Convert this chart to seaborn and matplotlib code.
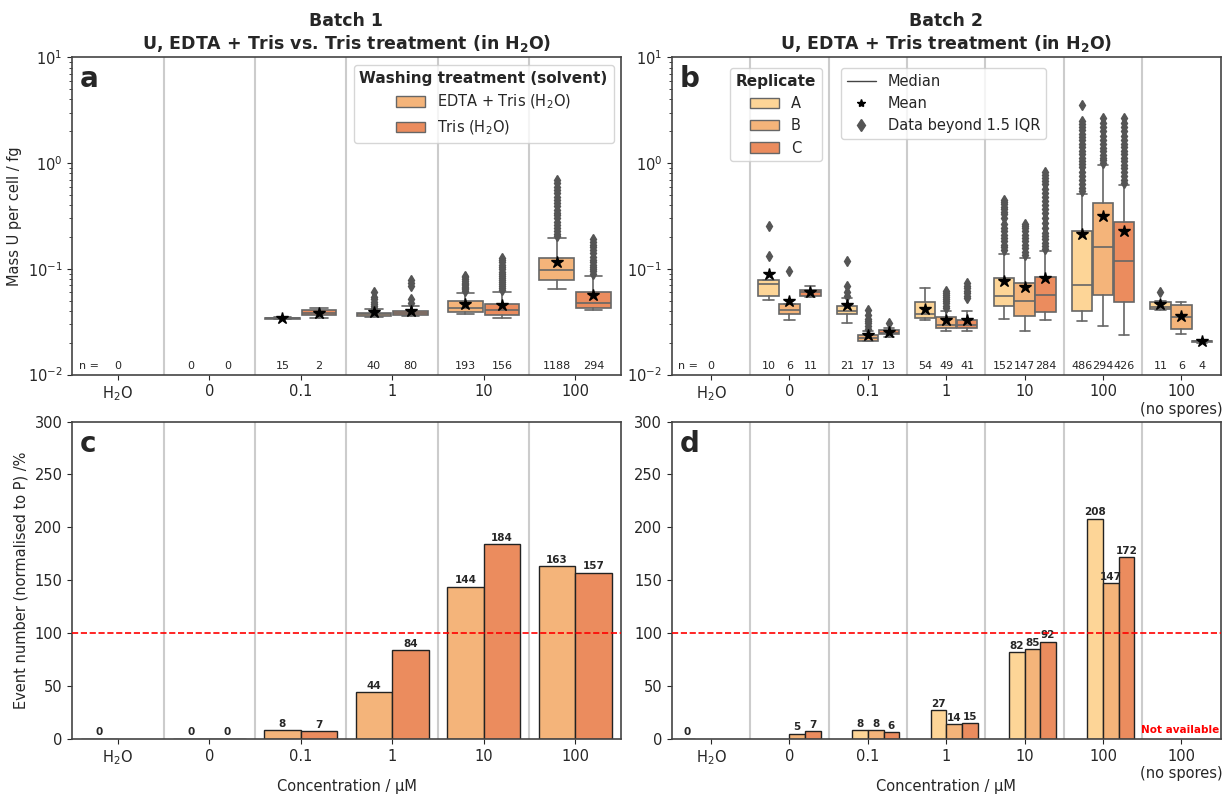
import numpy as np
import pandas as pd
import matplotlib
matplotlib.use('Agg')
import matplotlib.pyplot as plt
import seaborn as sns
from matplotlib.lines import Line2D
from matplotlib.patches import Patch

sns.set_style('ticks')
plt.rcParams['font.family'] = ['DejaVu Sans']

# ---------------- Batch 1 (panels a, c) ----------------
a_categories = ['H2O', '0', '0.1', '1', '10', '100']
a_tick_labels = ['H$_2$O', '0', '0.1', '1', '10', '100']
a_treatments = ['EDTA + Tris (H$_2$O)', 'Tris (H$_2$O)']
a_colors = ['#F4B47A', '#EB8C5E']

a_box_cat = ['0.1', '0.1', '1', '1', '10', '10', '100', '100']
a_box_hue = [0, 1, 0, 1, 0, 1, 0, 1]
a_q1 = [0.0338, 0.0366, 0.0359, 0.0366, 0.0394, 0.0364, 0.0787, 0.0430]
a_med = [0.0341, 0.0385, 0.0372, 0.0385, 0.0424, 0.0408, 0.0978, 0.0473]
a_q3 = [0.0344, 0.0408, 0.0385, 0.0400, 0.0494, 0.0463, 0.128, 0.0605]
a_lo = [0.0334, 0.0345, 0.0353, 0.0362, 0.0372, 0.0341, 0.0642, 0.0408]
a_hi = [0.0348, 0.0430, 0.0415, 0.0446, 0.0592, 0.0610, 0.198, 0.0859]
a_mean = [0.0341, 0.0385, 0.0391, 0.0400, 0.0463, 0.0456, 0.117, 0.0567]
a_fliers = [
    [], [],
    [0.043, 0.045, 0.047, 0.049, 0.052, 0.054, 0.060],
    [0.048, 0.052, 0.069, 0.074, 0.079],
    [0.062, 0.064, 0.066, 0.068, 0.070, 0.072, 0.074, 0.077, 0.080, 0.083, 0.086],
    [0.063, 0.066, 0.069, 0.072, 0.075, 0.078, 0.082, 0.086, 0.090, 0.094,
     0.099, 0.104, 0.110, 0.116, 0.122, 0.128],
    [0.205, 0.215, 0.23, 0.245, 0.26, 0.28, 0.30, 0.32, 0.34, 0.36, 0.39,
     0.42, 0.45, 0.48, 0.52, 0.56, 0.60, 0.65, 0.70],
    [0.090, 0.095, 0.10, 0.105, 0.11, 0.116, 0.122, 0.13, 0.14, 0.15, 0.16,
     0.17, 0.18, 0.19],
]
a_n_counts = [[0], [0, 0], [15, 2], [40, 80], [193, 156], [1188, 294]]

c_conc = ['H2O', '0', '0', '0.1', '0.1', '1', '1', '10', '10', '100', '100']
c_treat = [0, 0, 1, 0, 1, 0, 1, 0, 1, 0, 1]
c_values = [0, 0, 0, 8, 7, 44, 84, 144, 184, 163, 157]

# ---------------- Batch 2 (panels b, d) ----------------
b_categories = ['H2O', '0', '0.1', '1', '10', '100', '100ns']
b_tick_labels = ['H$_2$O', '0', '0.1', '1', '10', '100', '100\n(no spores)']
b_replicates = ['A', 'B', 'C']
b_colors = ['#FDD597', '#F4B47A', '#EB8C5E']

b_box_cat = ['0'] * 3 + ['0.1'] * 3 + ['1'] * 3 + ['10'] * 3 + ['100'] * 3 + ['100ns'] * 3
b_box_hue = [0, 1, 2] * 6
b_q1 = [0.0553, 0.0378, 0.0553, 0.0373, 0.0206, 0.0240, 0.0344, 0.0276, 0.0276,
        0.0445, 0.0360, 0.0392, 0.0404, 0.0565, 0.0489, 0.0422, 0.0268, 0.0203]
b_med = [0.0714, 0.0407, 0.0608, 0.0398, 0.0222, 0.0249, 0.0378, 0.0293, 0.0297,
         0.0553, 0.0499, 0.0565, 0.0704, 0.160, 0.119, 0.0438, 0.0352, 0.0206]
b_q3 = [0.078, 0.0468, 0.0631, 0.0447, 0.0239, 0.0262, 0.0482, 0.0347, 0.0332,
        0.0827, 0.0741, 0.0845, 0.227, 0.422, 0.278, 0.0482, 0.0451, 0.0209]
b_lo = [0.0503, 0.0327, 0.0541, 0.0308, 0.0206, 0.0227, 0.0327, 0.0261, 0.0261,
        0.0339, 0.0261, 0.0327, 0.0320, 0.0286, 0.0239, 0.0407, 0.0242, 0.0200]
b_hi = [0.078, 0.0468, 0.0694, 0.0525, 0.0257, 0.0276, 0.0654, 0.0398, 0.0398,
        0.138, 0.126, 0.146, 0.507, 0.957, 0.617, 0.0496, 0.0489, 0.0212]
b_mean = [0.0896, 0.0496, 0.0608, 0.0454, 0.0239, 0.0253, 0.0416, 0.0327, 0.0327,
          0.0769, 0.0669, 0.0827, 0.214, 0.315, 0.227, 0.0464, 0.0357, 0.0206]
b_fliers = [
    [0.131, 0.257], [0.0964], [],
    [0.0555, 0.0608, 0.0689, 0.120],
    [0.0273, 0.0290, 0.0305, 0.0320, 0.0339, 0.0370, 0.0407],
    [0.0310],
    [],
    [0.0423, 0.0445, 0.0472, 0.0495, 0.0519, 0.0540, 0.0565, 0.0590, 0.0618],
    [0.0527, 0.0555, 0.0586, 0.0620, 0.0654, 0.0690, 0.0730],
    [0.152, 0.160, 0.169, 0.182, 0.196, 0.21, 0.227, 0.245, 0.263, 0.30,
     0.327, 0.345, 0.365, 0.385, 0.407, 0.425, 0.444],
    [0.136, 0.145, 0.157, 0.168, 0.182, 0.195, 0.211, 0.228, 0.244, 0.255, 0.268],
    [0.155, 0.163, 0.175, 0.19, 0.205, 0.22, 0.244, 0.27, 0.304, 0.335, 0.365,
     0.40, 0.438, 0.48, 0.526, 0.575, 0.631, 0.68, 0.73, 0.78, 0.827],
    [0.545, 0.58, 0.631, 0.69, 0.757, 0.83, 0.91, 0.98, 1.05, 1.13, 1.22, 1.31,
     1.41, 1.52, 1.64, 1.76, 1.90, 2.05, 2.19, 2.35, 2.53, 3.57],
    [1.01, 1.07, 1.13, 1.2, 1.31, 1.4, 1.52, 1.65, 1.82, 2.0, 2.19, 2.4, 2.66],
    [0.654, 0.70, 0.757, 0.82, 0.89, 0.96, 1.05, 1.13, 1.22, 1.31, 1.41, 1.52,
     1.65, 1.82, 2.0, 2.19, 2.4, 2.66],
    [0.0608], [], [],
]
b_n_counts = [[0], [10, 6, 11], [21, 17, 13], [54, 49, 41], [152, 147, 284],
              [486, 294, 426], [11, 6, 4]]

d_conc = ['H2O', '0', '0', '0.1', '0.1', '0.1', '1', '1', '1', '10', '10', '10',
          '100', '100', '100']
d_rep = ['P', 'B', 'C', 'A', 'B', 'C', 'A', 'B', 'C', 'A', 'B', 'C', 'A', 'B', 'C']
d_values = [0, 5, 7, 8, 8, 6, 27, 14, 15, 82, 85, 92, 208, 147, 172]

GRAY = '#666666'
SPINE = '#444444'


def draw_boxes(ax, cat_order, cats, hues, n_hue, box_w, q1, med, q3, lo, hi,
               mean, fliers, colors):
    stats, pos = [], []
    for i in range(len(cats)):
        stats.append(dict(q1=q1[i], med=med[i], q3=q3[i], whislo=lo[i],
                          whishi=hi[i], mean=mean[i], fliers=fliers[i]))
        off = (hues[i] - (n_hue - 1) / 2) * 0.8 / n_hue
        pos.append(cat_order.index(cats[i]) + off)
    bp = ax.bxp(stats, positions=pos, widths=box_w, patch_artist=True,
                showmeans=True,
                boxprops=dict(edgecolor=GRAY, linewidth=1.2),
                medianprops=dict(color=GRAY, linewidth=1.2),
                whiskerprops=dict(color=GRAY, linewidth=1.2),
                capprops=dict(color=GRAY, linewidth=1.2),
                flierprops=dict(marker='d', markerfacecolor='#555555',
                                markeredgecolor='#555555', markersize=5),
                meanprops=dict(marker='*', markerfacecolor='black',
                               markeredgecolor='black', markersize=9))
    for patch, h in zip(bp['boxes'], hues):
        patch.set_facecolor(colors[h])


def n_labels(ax, counts, n_hue):
    ax.text(0.012, 0.012, 'n =', transform=ax.transAxes, fontsize=8,
            ha='left', va='bottom')
    tr = ax.get_xaxis_transform()
    for ci, vals in enumerate(counts):
        if len(vals) == 1:
            offs = [0.0]
        else:
            offs = [(h - (n_hue - 1) / 2) * 0.8 / n_hue for h in range(len(vals))]
        for v, o in zip(vals, offs):
            ax.text(ci + o, 0.012, str(v), transform=tr, fontsize=8,
                    ha='center', va='bottom')


def style_axis(ax, ncat, labels, letter):
    ax.set_xlim(-0.5, ncat - 0.5)
    for k in range(ncat - 1):
        ax.axvline(k + 0.5, color='#cccccc', lw=1.5, zorder=0)
    ax.set_xticks(range(ncat))
    ax.set_xticklabels(labels, fontsize=10.5)
    ax.tick_params(axis='y', labelsize=10.5)
    for s in ax.spines.values():
        s.set_color(SPINE)
        s.set_linewidth(1.2)
    ax.text(0.014, 0.975, letter, transform=ax.transAxes, fontsize=20,
            fontweight='bold', va='top', ha='left')


fig, axes = plt.subplots(2, 2, figsize=(12.23, 7.97), dpi=100)
fig.subplots_adjust(left=0.059, right=0.998, bottom=0.073, top=0.928,
                    wspace=0.093, hspace=0.148)
ax_a, ax_b = axes[0]
ax_c, ax_d = axes[1]

# ---- panel a ----
ax_a.set_yscale('log')
draw_boxes(ax_a, a_categories, a_box_cat, a_box_hue, 2, 0.38, a_q1, a_med,
           a_q3, a_lo, a_hi, a_mean, a_fliers, a_colors)
ax_a.set_ylim(1e-2, 1e1)
style_axis(ax_a, len(a_categories), a_tick_labels, 'a')
n_labels(ax_a, a_n_counts, 2)
ax_a.set_ylabel('Mass U per cell / fg', fontsize=10.5)
ax_a.set_title('Batch 1\nU, EDTA + Tris vs. Tris treatment (in H$_\\mathbf{2}$O)',
               fontweight='bold', fontsize=12.5)
ax_a.legend(handles=[Patch(facecolor=c, edgecolor=GRAY, label=l)
                     for c, l in zip(a_colors, a_treatments)],
            title='Washing treatment (solvent)', loc='upper right',
            fontsize=10.5, title_fontproperties={'weight': 'bold', 'size': 11})

# ---- panel b ----
ax_b.set_yscale('log')
draw_boxes(ax_b, b_categories, b_box_cat, b_box_hue, 3, 0.26, b_q1, b_med,
           b_q3, b_lo, b_hi, b_mean, b_fliers, b_colors)
ax_b.set_ylim(1e-2, 1e1)
style_axis(ax_b, len(b_categories), b_tick_labels, 'b')
n_labels(ax_b, b_n_counts, 3)
ax_b.set_title('Batch 2\nU, EDTA + Tris treatment (in H$_\\mathbf{2}$O)',
               fontweight='bold', fontsize=12.5)
leg_b1 = ax_b.legend(handles=[Patch(facecolor=c, edgecolor=GRAY, label=l)
                              for c, l in zip(b_colors, b_replicates)],
                     title='Replicate', loc='upper left',
                     bbox_to_anchor=(0.092, 0.99), fontsize=10.5,
                     title_fontproperties={'weight': 'bold', 'size': 11})
ax_b.add_artist(leg_b1)
ax_b.legend(handles=[Line2D([], [], color='#444444', lw=1, label='Median'),
                     Line2D([], [], color='black', marker='*', ls='none',
                            markersize=6, label='Mean'),
                     Line2D([], [], color='#555555', marker='d', ls='none',
                            markersize=6, label='Data beyond 1.5 IQR')],
            loc='upper left', bbox_to_anchor=(0.295, 0.99), fontsize=10.5)

# ---- panel c ----
df_c = pd.DataFrame({'conc': c_conc,
                     'treat': [a_treatments[t] for t in c_treat],
                     'value': c_values})
sns.barplot(data=df_c, x='conc', y='value', hue='treat', order=a_categories,
            hue_order=a_treatments, palette=a_colors, saturation=1,
            edgecolor='#222222', linewidth=1, errorbar=None, legend=False,
            ax=ax_c)
for cont in ax_c.containers:
    ax_c.bar_label(cont, fmt='%d', fontsize=7.5, fontweight='bold', padding=1)
ax_c.axhline(100, color='red', ls='--', lw=1.2, zorder=5)
ax_c.set_ylim(0, 300)
style_axis(ax_c, len(a_categories), a_tick_labels, 'c')
ax_c.set_ylabel('Event number (normalised to P) /%', fontsize=10.5)
ax_c.set_xlabel('Concentration / µM', fontsize=10.5)
ax_c.xaxis.set_label_coords(0.5, -0.128)

# ---- panel d ----
d_hue_order = ['P'] + b_replicates
df_d = pd.DataFrame({'conc': d_conc, 'rep': d_rep, 'value': d_values})
sns.barplot(data=df_d, x='conc', y='value', hue='rep', order=b_categories,
            hue_order=d_hue_order, palette=[b_colors[0]] + b_colors,
            saturation=1, edgecolor='#222222', linewidth=1, errorbar=None,
            legend=False, ax=ax_d)
for cont in ax_d.containers:
    ax_d.bar_label(cont, fmt='%d', fontsize=7.5, fontweight='bold', padding=1)
ax_d.axhline(100, color='red', ls='--', lw=1.2, zorder=5)
ax_d.set_ylim(0, 300)
style_axis(ax_d, len(b_categories), b_tick_labels, 'd')
ax_d.set_ylabel('')
ax_d.set_xlabel('Concentration / µM', fontsize=10.5)
ax_d.xaxis.set_label_coords(0.5, -0.128)
ax_d.text(0.997, 0.012, 'Not available', transform=ax_d.transAxes, color='red',
          fontsize=7.5, fontweight='bold', ha='right', va='bottom')

ax_a.set_xlabel('')
ax_b.set_xlabel('')

fig.savefig('out.png', dpi=100)
